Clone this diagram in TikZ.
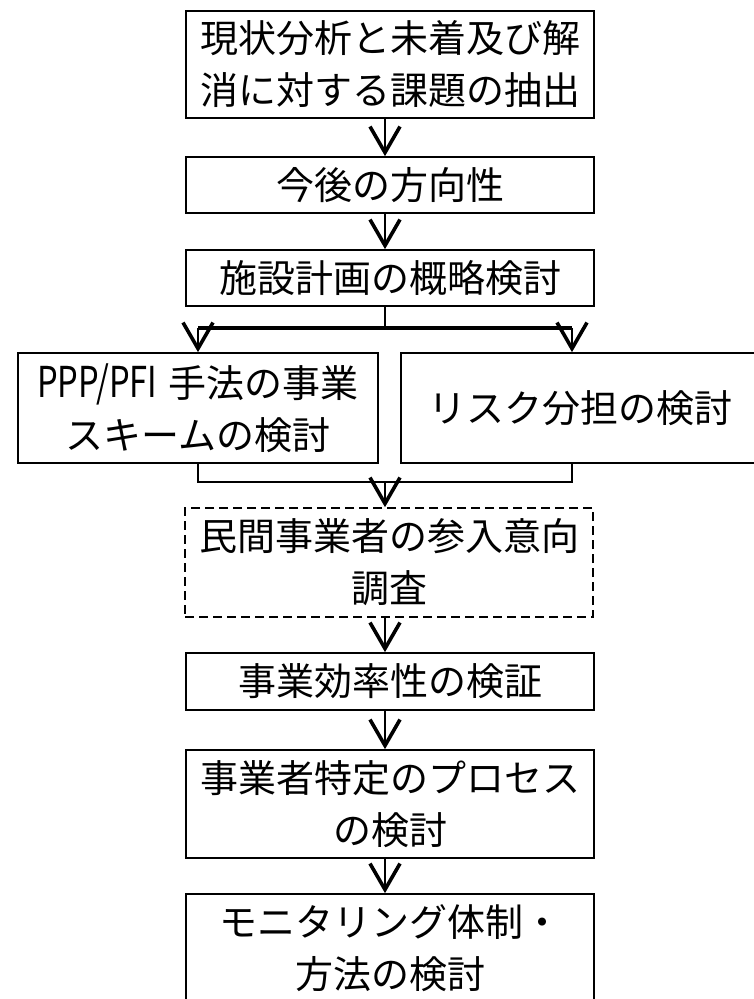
\documentclass[tikz,border=0pt]{standalone}
\usepackage{fontspec}
\usepackage{graphicx}
\setmainfont{Noto Sans CJK JP}
\usetikzlibrary{arrows.meta}
\begin{document}
\begin{tikzpicture}[x=1pt,y=-1pt,
  box/.style={draw, line width=1.7pt, inner sep=0pt, align=center,
    font=\fontsize{38}{52}\selectfont, minimum width=408pt},
  dbox/.style={box, dash pattern=on 9pt off 5pt},
  link/.style={line width=1.7pt},
  splitline/.style={line width=3.8pt},
  arr/.style={line width=2.2pt, -{Straight Barb[length=26pt,width=30pt,line width'=3.6pt]}},
]
\useasboundingbox (0,0) rectangle (753,999);
\fill[white] (0,0) rectangle (753,999);

\node[box, minimum height=107pt] (b1) at (390,64.5) {現状分析と未着及び解\\消に対する課題の抽出};
\node[box, minimum height=56pt] (b2) at (390,185) {今後の方向性};
\node[box, minimum height=56pt] (b3) at (390,278) {施設計画の概略検討};
\node[box, minimum height=110pt, minimum width=360pt] (b4l) at (198,408)
  {\scalebox{0.86}[1.12]{PPP/PFI}\hspace{0.3em}手法の事業\\スキームの検討};
\node[box, minimum height=110pt, minimum width=359pt] (b4r) at (580.5,408) {リスク分担の検討};
\node[dbox, minimum height=109pt] (b5) at (389,562.5) {民間事業者の参入意向\\調査};
\node[box, minimum height=57pt] (b6) at (390,681.5) {事業効率性の検証};
\node[box, minimum height=108pt] (b7) at (390,804) {事業者特定のプロセス\\の検討};
\node[box, minimum height=109pt] (b8) at (390,948.5) {モニタリング体制・\\方法の検討};

\coordinate (ax) at (385,0);
\coordinate (sc) at (385,328);
\coordinate (la) at (198,328);
\coordinate (ra) at (572,328);
\coordinate (jl) at (198,482);
\coordinate (jr) at (572,482);
\coordinate (jc) at (385,482);

\draw[arr] (b1.south -| ax) -- (b2.north -| ax);
\draw[arr] (b2.south -| ax) -- (b3.north -| ax);
\draw[link] (b3.south -| ax) -- (sc);
\draw[splitline] (la) -- (ra);
\draw[arr] (la) -- (b4l.north -| la);
\draw[arr] (ra) -- (b4r.north -| ra);
\draw[link] (b4l.south -| jl) -- (jl) -- (jr) -- (b4r.south -| jr);
\draw[arr] (jc) -- (b5.north -| ax);
\draw[arr] (b5.south -| ax) -- (b6.north -| ax);
\draw[arr] (b6.south -| ax) -- (b7.north -| ax);
\draw[arr] (b7.south -| ax) -- (b8.north -| ax);
\end{tikzpicture}
\end{document}
